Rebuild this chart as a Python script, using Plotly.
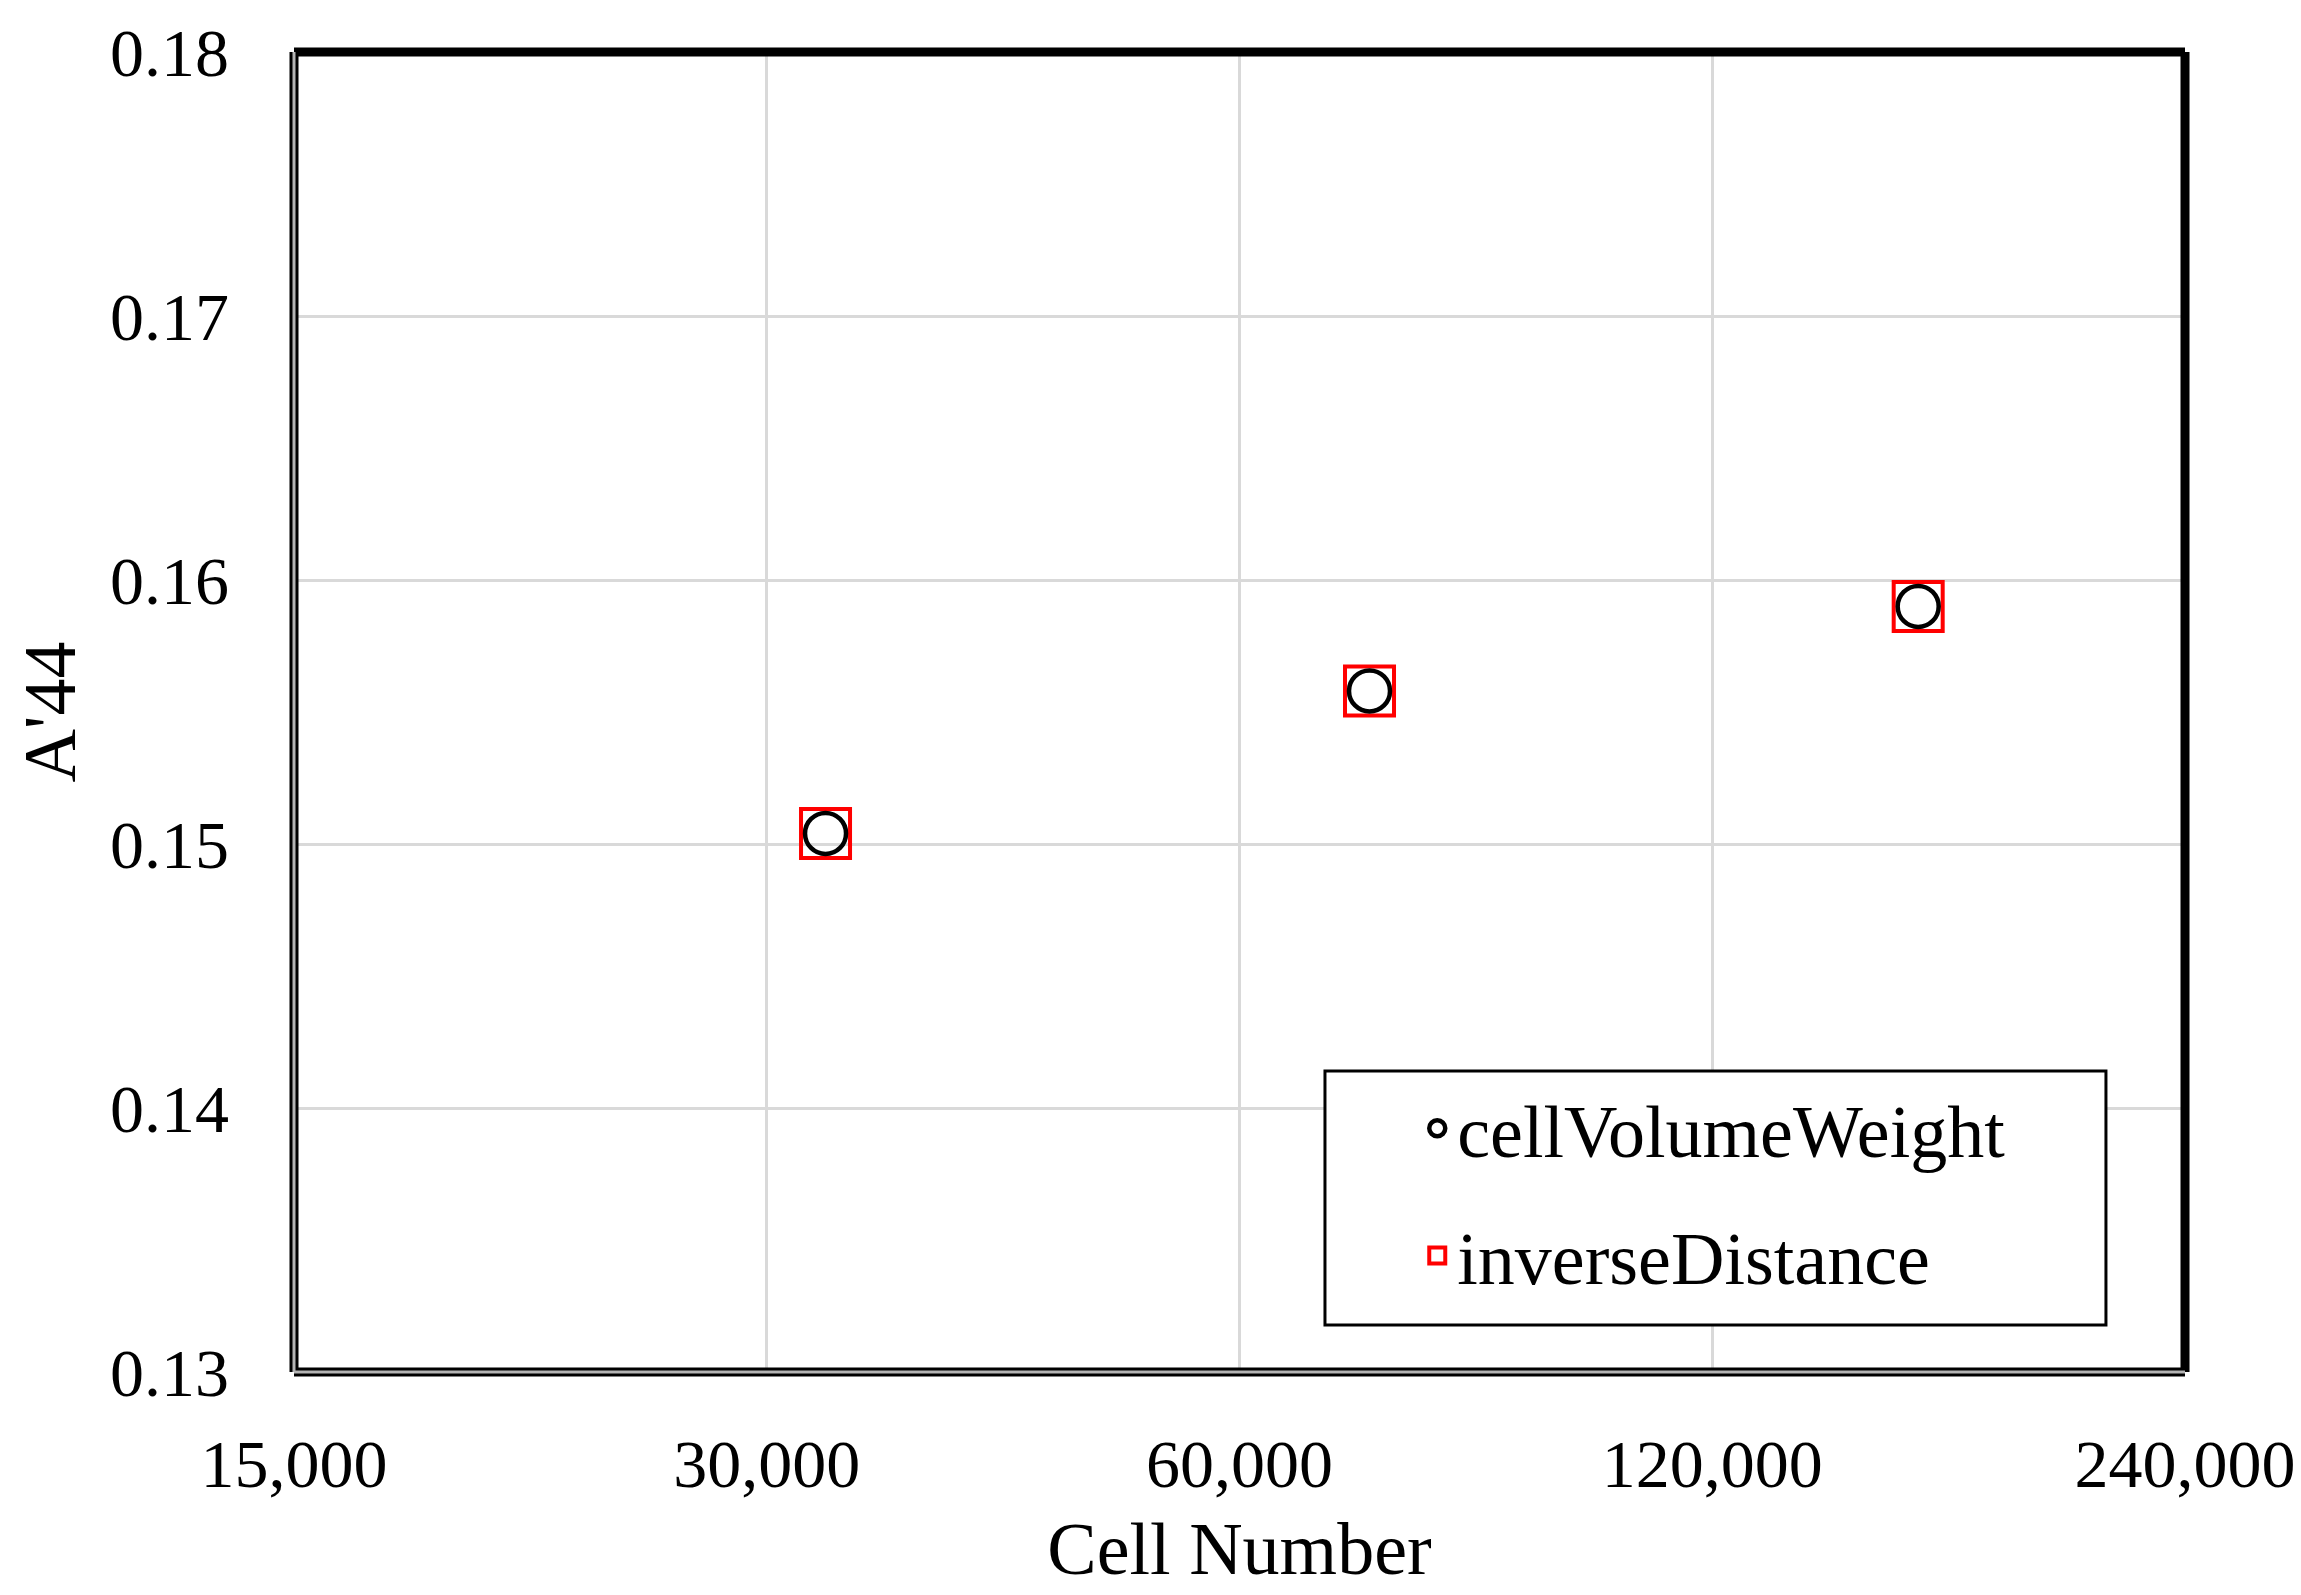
import math
import plotly.graph_objects as go

# ---- data ----
cell_numbers = [32700, 72600, 162300]
cvw_values = [0.1504, 0.1558, 0.1590]
inv_values = [0.1504, 0.1558, 0.1590]
x_tickvals = [15000, 30000, 60000, 120000, 240000]
x_ticktext = ["15,000", "30,000", "60,000", "120,000", "240,000"]
y_tickvals = [0.13, 0.14, 0.15, 0.16, 0.17, 0.18]
y_ticktext = ["0.13", "0.14", "0.15", "0.16", "0.17", "0.18"]
series_names = ["cellVolumeWeight", "inverseDistance"]

FONT = "Liberation Serif"
TFS = 68
LFS = 74

fig = go.Figure()
fig.add_trace(go.Scatter(
    x=cell_numbers, y=inv_values, mode="markers", name=series_names[1],
    legendgroup="b", legendrank=2,
    marker=dict(symbol="square-open", size=49, color="#ff0000",
                line=dict(width=4, color="#ff0000")),
))
fig.add_trace(go.Scatter(
    x=cell_numbers, y=cvw_values, mode="markers", name=series_names[0],
    legendgroup="a", legendrank=1,
    marker=dict(symbol="circle-open", size=41, color="#000000",
                line=dict(width=4.5, color="#000000")),
))

fig.update_layout(
    width=2301, height=1595,
    margin=dict(l=294, r=116, t=52, b=223),
    paper_bgcolor="white", plot_bgcolor="white",
    font=dict(family=FONT, size=TFS, color="black"),
    showlegend=True,
    legend=dict(
        x=0.594, y=0.226, xanchor="left", yanchor="top",
        bgcolor="rgba(0,0,0,0)", borderwidth=0,
        font=dict(family=FONT, size=LFS, color="black"),
        tracegroupgap=28, itemsizing="trace",
    ),
    xaxis=dict(
        type="log", range=[math.log10(15000), math.log10(240000)],
        tickvals=x_tickvals, ticktext=x_ticktext,
        showgrid=True, gridcolor="#d9d9d9", gridwidth=3,
        showline=False, zeroline=False, ticks="", automargin=False,
        ticklabelstandoff=46,
        tickfont=dict(family=FONT, size=TFS),
        title=dict(text="Cell Number", standoff=21, font=dict(family=FONT, size=LFS)),
    ),
    yaxis=dict(
        range=[0.13, 0.18],
        tickvals=y_tickvals, ticktext=y_ticktext,
        showgrid=True, gridcolor="#d9d9d9", gridwidth=3,
        showline=False, zeroline=False, ticks="", automargin=False,
        ticklabelstandoff=64,
        tickfont=dict(family=FONT, size=TFS),
        title=dict(text="A'44", standoff=10, font=dict(family=FONT, size=LFS)),
    ),
)

# legend box (covers gridlines; legend itself is drawn above it)
fig.add_shape(type="rect", xref="paper", yref="paper",
              x0=0.5452, x1=0.9582, y0=0.0356, y1=0.228,
              fillcolor="white", line=dict(color="black", width=3), layer="above")

# frame: thick black top/right, double line left/bottom
fig.add_shape(type="line", xref="paper", yref="paper", x0=0, x1=1, y0=1, y1=1,
              line=dict(color="black", width=9), layer="above")
fig.add_shape(type="line", xref="paper", yref="paper", x0=1, x1=1, y0=0, y1=1,
              line=dict(color="black", width=9), layer="above")
for w, c in [(9, "black"), (3, "#b4b4b4")]:
    fig.add_shape(type="line", xref="paper", yref="paper", x0=0, x1=0, y0=0, y1=1,
                  line=dict(color=c, width=w), layer="above")
    fig.add_shape(type="line", xref="paper", yref="paper", x0=0, x1=1, y0=0, y1=0,
                  line=dict(color=c, width=w), layer="above")

fig.write_html("out.html", config={"displayModeBar": False},
               post_script="document.body.style.margin='0px';")
